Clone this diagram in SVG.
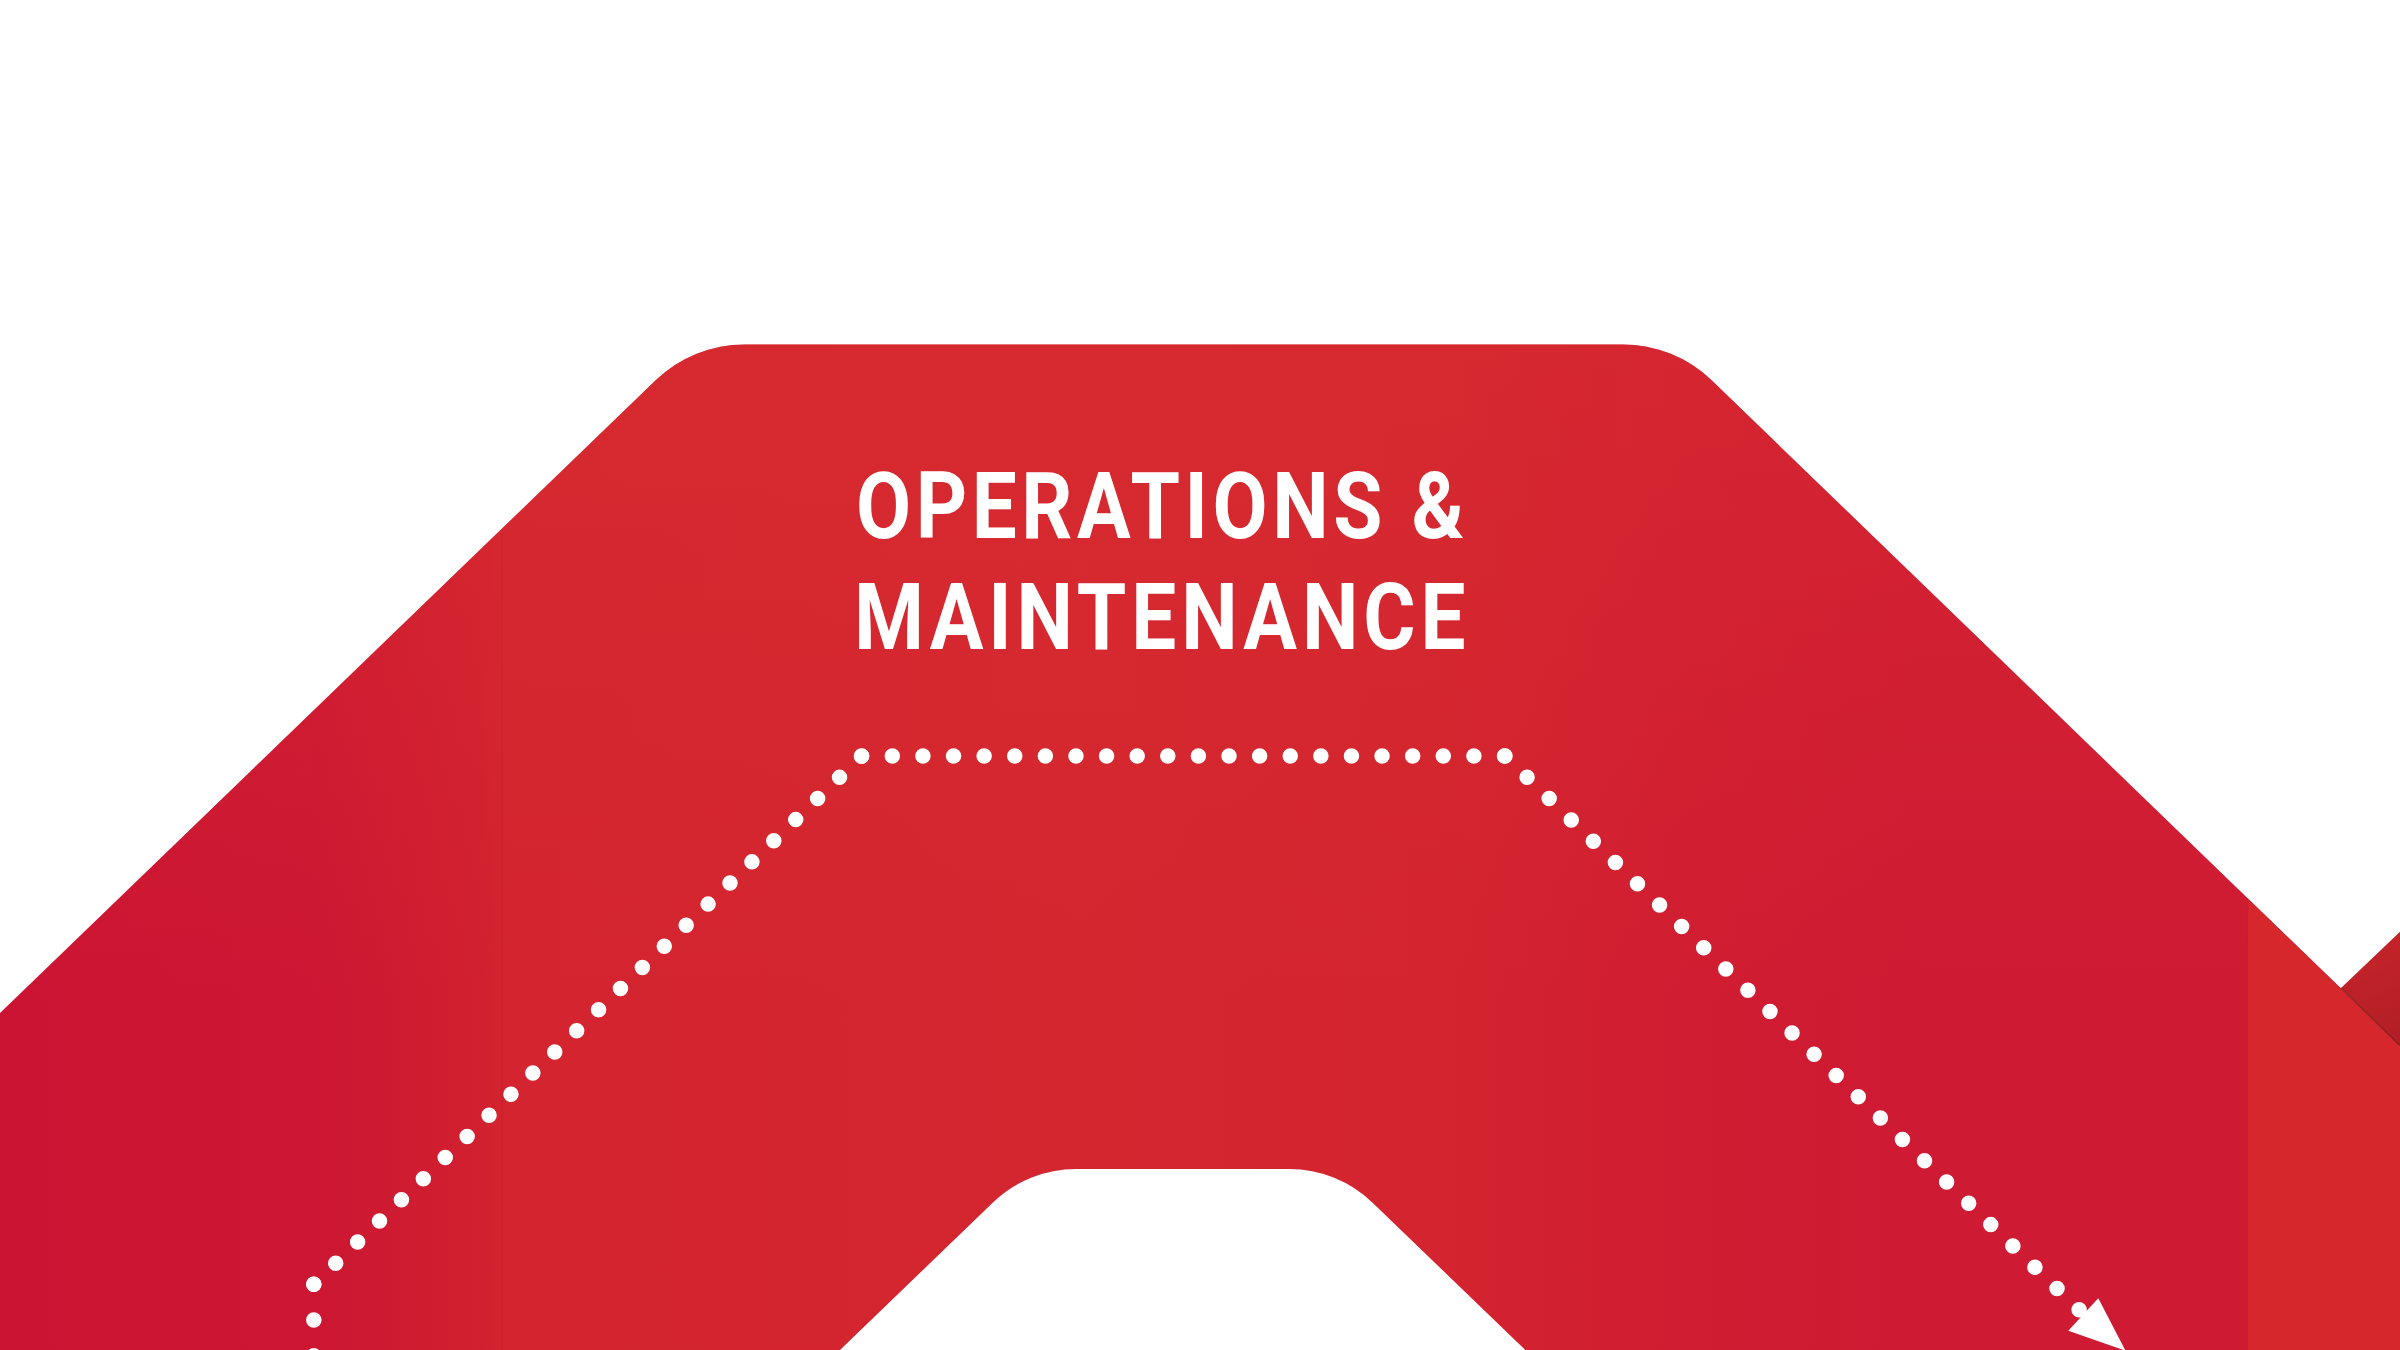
<svg xmlns="http://www.w3.org/2000/svg" width="2400" height="1350" viewBox="0 0 2400 1350">
  <defs>
    <linearGradient id="armFill" gradientUnits="userSpaceOnUse" x1="0" y1="0" x2="2400" y2="0">
      <stop offset="0" stop-color="#cb1433"/>
      <stop offset="0.13" stop-color="#cc1633"/>
      <stop offset="0.2" stop-color="#d1202f"/>
      <stop offset="0.21" stop-color="#d3242f"/>
      <stop offset="0.45" stop-color="#d4262f"/>
      <stop offset="0.6" stop-color="#d3242f"/>
      <stop offset="0.7" stop-color="#d01d31"/>
      <stop offset="0.8" stop-color="#ce1a33"/>
      <stop offset="1" stop-color="#ce1a33"/>
    </linearGradient>
    <linearGradient id="topGlow" gradientUnits="userSpaceOnUse" x1="0" y1="344" x2="0" y2="1000">
      <stop offset="0" stop-color="#d92d30" stop-opacity="0.55"/>
      <stop offset="1" stop-color="#d92d30" stop-opacity="0"/>
    </linearGradient>
    <linearGradient id="nextSeg" gradientUnits="userSpaceOnUse" x1="2340" y1="930" x2="2400" y2="1045">
      <stop offset="0" stop-color="#c8252a"/>
      <stop offset="1" stop-color="#b11e25"/>
    </linearGradient>
    <style>
      .label { font-family: Roboto, "Liberation Sans", sans-serif; font-weight: 700; font-size: 93px; fill: #ffffff; }
      .dots { fill: none; stroke: #ffffff; stroke-width: 15.5; stroke-linecap: round; }
    </style>
  </defs>

  <rect x="0" y="0" width="2400" height="1350" fill="#ffffff"/>

  <g id="segment-operations-maintenance">
    <path id="arm-shape" fill="url(#armFill)" d="M0,1350 L0,1013 L655.4,380.5 A129,129 0 0 1 745,344.4 L1621.5,344.4 A129,129 0 0 1 1711.9,380.5 L2400,1045.5 L2400,1350 L1525.3,1350 L1372.6,1202.7 A120,120 0 0 0 1289.2,1169 L1076.1,1169 A120,120 0 0 0 992.7,1202.7 L840,1350 Z"/>
    <path fill="url(#topGlow)" d="M0,1350 L0,1013 L655.4,380.5 A129,129 0 0 1 745,344.4 L1621.5,344.4 A129,129 0 0 1 1711.9,380.5 L2400,1045.5 L2400,1350 L1525.3,1350 L1372.6,1202.7 A120,120 0 0 0 1289.2,1169 L1076.1,1169 A120,120 0 0 0 992.7,1202.7 L840,1350 Z"/>
    <line x1="502" y1="533" x2="502" y2="1350" stroke="#c41d2d" stroke-width="1.2" stroke-opacity="0.5"/>
    <text class="label" transform="translate(856 537.5) scale(0.86 1)" textLength="707" lengthAdjust="spacing">OPERATIONS &amp;</text>
    <text class="label" transform="translate(854 648.5) scale(0.86 1)" textLength="711" lengthAdjust="spacing">MAINTENANCE</text>
  </g>

  <g id="segment-right-strip">
    <polygon points="2247.7,898.5 2400,1045.5 2400,1350 2247.7,1350" fill="#d6272d"/>
    <line x1="2247.7" y1="898.5" x2="2247.7" y2="1350" stroke="#b82030" stroke-width="1" stroke-opacity="0.5"/>
  </g>

  <g id="segment-next">
    <polygon points="2341,988 2400,931.7 2400,1045.5" fill="url(#nextSeg)"/>
    <line x1="2341" y1="988" x2="2400" y2="1045.5" stroke="#6e1518" stroke-width="1.3" stroke-opacity="0.7"/>
  </g>

  <g id="connectors">
    <path class="dots" stroke-dasharray="0 35.7" d="M313.8,1284.3 L313.8,1400"/>
    <path class="dots" stroke-dasharray="0 30.43" d="M313.8,1284.3 L861.7,756"/>
    <path class="dots" stroke-dasharray="0 30.61" d="M861.7,756 L1505,756"/>
    <path class="dots" stroke-dasharray="0 30.68" d="M1505,756 L2079.3,1310"/>
    <line x1="2079.3" y1="1310" x2="2085" y2="1316" stroke="#ffffff" stroke-width="8"/>
    <polygon points="2068.3,1330.7 2098.3,1298.3 2125.5,1350.7" fill="#ffffff"/>
  </g>
</svg>
